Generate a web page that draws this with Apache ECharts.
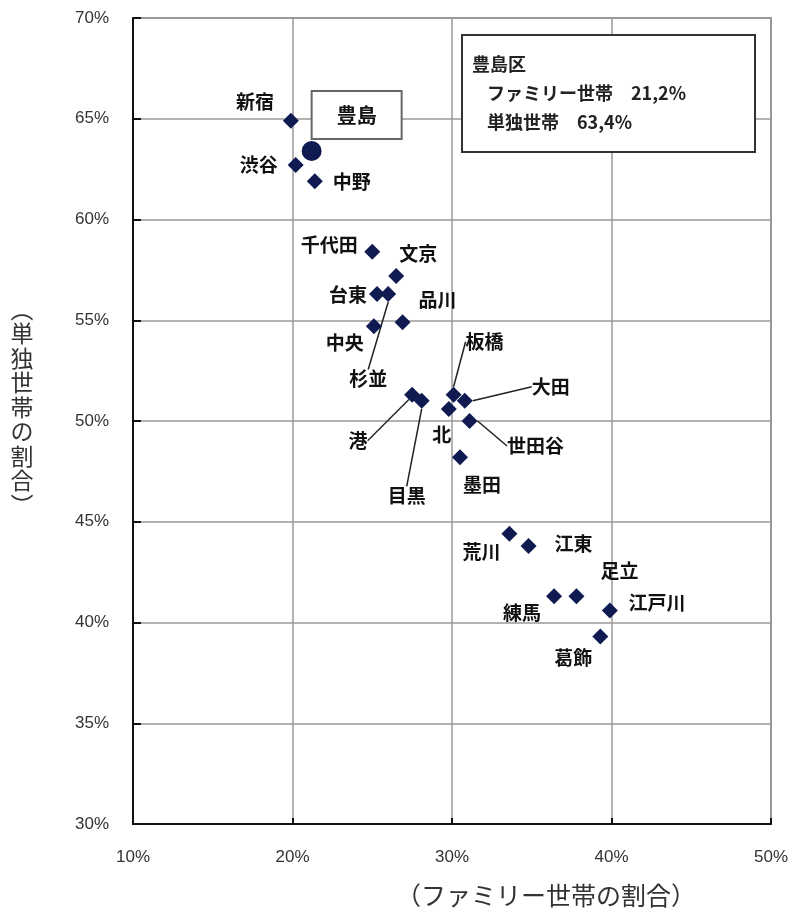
<!DOCTYPE html>
<html><head><meta charset="utf-8">
<script src="https://cdn.jsdelivr.net/npm/echarts@6/dist/echarts.min.js"></script>
<style>html,body{margin:0;padding:0;background:#fff}#c{width:802px;height:919px}</style>
</head><body><div id="c"></div>
<script>
// Data
var wards = ['新宿','豊島','渋谷','中野','千代田','文京','台東','杉並','中央','品川','港','目黒','板橋','大田','北','世田谷','墨田','荒川','江東','練馬','足立','江戸川','葛飾'];
var familyShare = [19.9,21.2,20.2,21.4,25.0,26.5,25.3,26.0,25.1,26.9,27.5,28.1,30.1,30.8,29.8,31.1,30.5,33.6,34.8,36.4,37.8,39.9,39.3];
var singleShare = [64.9,63.4,62.7,61.9,58.4,57.2,56.3,56.3,54.7,54.9,51.3,51.0,51.3,51.0,50.6,50.0,48.2,44.4,43.8,41.3,41.3,40.6,39.3];
var xTicks = [10,20,30,40,50];
var yTicks = [30,35,40,45,50,55,60,65,70];
var highlight = '豊島';
var infoTitle = '豊島区';
var infoLines = ['ファミリー世帯　21,2%','単独世帯　63,4%'];

// Layout of labels (pixel offsets from each point)
var labelOffsets = {
 '新宿':[-36,-19],'豊島':[45,-36],'渋谷':[-37,0],'中野':[37,1],'千代田':[-43,-7],'文京':[22,-22],
 '台東':[-29,1],'杉並':[-20,85],'中央':[-29,16],'品川':[35,-22],'港':[-54,46],'目黒':[-15,95],
 '板橋':[31,-53],'大田':[86,-14],'北':[-7,26],'世田谷':[66,25],'墨田':[22,28],'荒川':[-28,18],
 '江東':[45,-2],'練馬':[-32,16],'足立':[43,-26],'江戸川':[47,-8],'葛飾':[-27,21]
};
var leaders = ['杉並','港','目黒','板橋','大田','世田谷'];

var data = wards.map(function(n,i){
  var d = {name:n, value:[familyShare[i], singleShare[i]]};
  if (n === highlight) {
    d.symbol = 'circle'; d.symbolSize = 20;
    d.label = {backgroundColor:'#fff', borderColor:'#666', borderWidth:2, padding:[13,24], fontSize:20};
  }
  if (leaders.indexOf(n) >= 0) d.labelLine = {show:true, lineStyle:{color:'#222', width:1.5}};
  return d;
});

var chart = echarts.init(document.getElementById('c'));
var yNameChars = ['︵'].concat('単独世帯の割合'.split('')).concat(['︶']);
chart.setOption({
  animation:false,
  backgroundColor:'#fff',
  grid:{left:133,right:31,top:18,bottom:95,show:true,borderColor:'#999',borderWidth:2,backgroundColor:'transparent'},
  xAxis:{type:'value',min:xTicks[0],max:xTicks[xTicks.length-1],interval:10,
    axisLine:{show:true,onZero:false,lineStyle:{color:'#111',width:2}},
    axisTick:{show:true,inside:true,length:6,lineStyle:{color:'#111',width:2}},
    axisLabel:{formatter:'{value}%',color:'#333',fontSize:17,fontFamily:'Liberation Sans',margin:25},
    splitLine:{show:true,lineStyle:{color:'#999',width:1.5}}},
  yAxis:{type:'value',min:yTicks[0],max:yTicks[yTicks.length-1],interval:5,
    axisLine:{show:true,onZero:false,lineStyle:{color:'#111',width:2}},
    axisTick:{show:true,inside:true,length:8,lineStyle:{color:'#111',width:2}},
    axisLabel:{formatter:'{value}%',color:'#333',fontSize:17,fontFamily:'Liberation Sans',margin:24},
    splitLine:{show:true,lineStyle:{color:'#999',width:1.5}}},
  graphic:[
    {type:'text',style:{text:'（ファミリー世帯の割合）',x:546,y:895,align:'center',verticalAlign:'middle',
      font:'25px "Noto Sans CJK JP"',fill:'#333'}},
    {type:'text',style:{text:yNameChars.join('\n'),x:22,y:407,align:'center',verticalAlign:'middle',
      font:'23px "Noto Sans CJK JP"',lineHeight:24.5,fill:'#333'}},
    {type:'rect',shape:{x:462,y:35,width:293,height:117},style:{fill:'#fff',stroke:'#333',lineWidth:2},z:10},
    {type:'text',z:11,style:{text:infoTitle,x:472,y:64,verticalAlign:'middle',font:'bold 18px "Noto Sans CJK JP"',fill:'#222'}},
    {type:'text',z:11,style:{text:infoLines[0],x:487,y:93,verticalAlign:'middle',font:'bold 18px "Noto Sans CJK JP"',fill:'#222'}},
    {type:'text',z:11,style:{text:infoLines[1],x:487,y:122,verticalAlign:'middle',font:'bold 18px "Noto Sans CJK JP"',fill:'#222'}}
  ],
  series:[{
    type:'scatter',
    symbol:'diamond',
    symbolSize:16,
    itemStyle:{color:'#0e1a50',opacity:1},
    emphasis:{disabled:true},
    data:data,
    label:{show:true,position:'inside',formatter:'{b}',color:'#111',fontSize:19,fontWeight:'bold',fontFamily:'Noto Sans CJK JP'},
    labelLine:{show:false},
    labelLayout:function(p){
      var o = labelOffsets[wards[p.dataIndex]] || [0,0];
      return {dx:o[0],dy:o[1]};
    }
  }]
});
</script></body></html>
